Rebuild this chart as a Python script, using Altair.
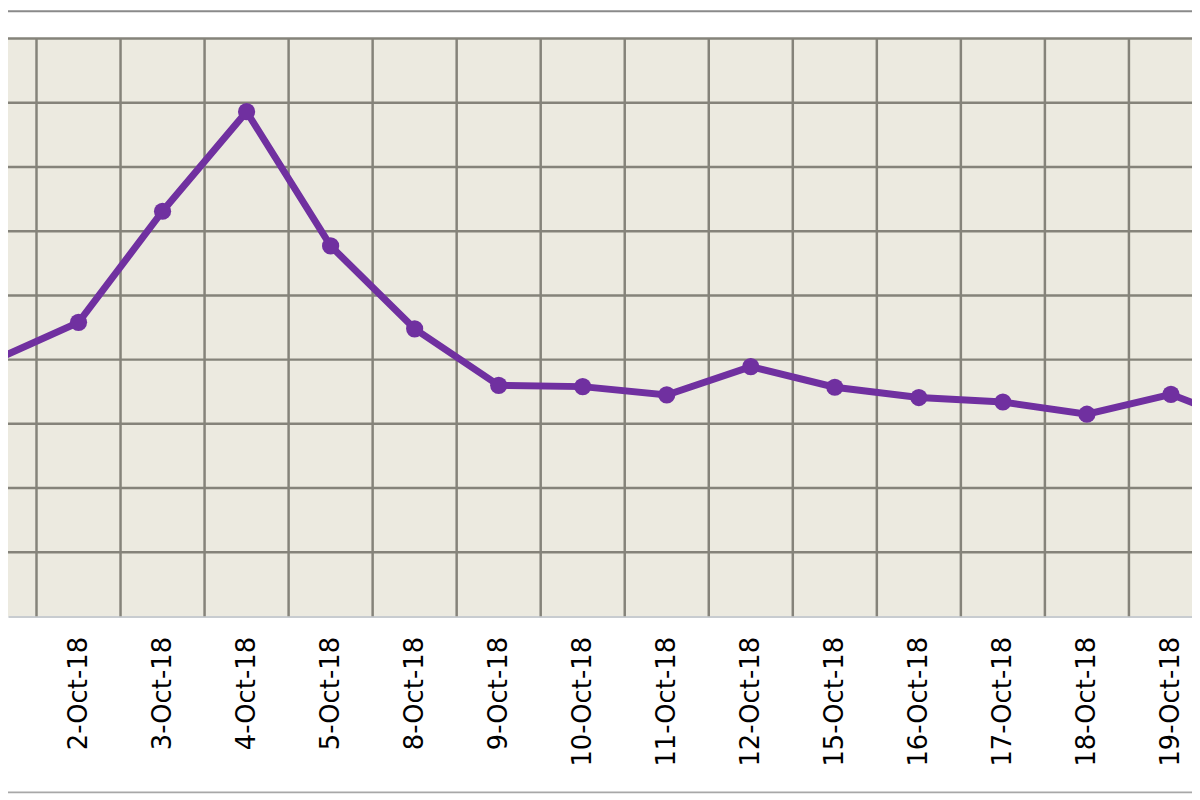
import altair as alt
import pandas as pd

dates = ["1-Oct-18", "2-Oct-18", "3-Oct-18", "4-Oct-18", "5-Oct-18", "8-Oct-18",
         "9-Oct-18", "10-Oct-18", "11-Oct-18", "12-Oct-18", "15-Oct-18", "16-Oct-18",
         "17-Oct-18", "18-Oct-18", "19-Oct-18", "22-Oct-18"]
values = [3.99, 4.58, 6.31, 7.86, 5.77, 4.48, 3.60, 3.58, 3.45, 3.89, 3.57, 3.41,
          3.34, 3.15, 3.46, 2.95]

df = pd.DataFrame({"idx": list(range(len(dates))), "date": dates, "value": values})
grid_df = pd.DataFrame({"idx": [i + 0.5 for i in range(-1, len(dates))]})

label_expr = "[" + ",".join("'%s'" % d for d in dates) + "][datum.value]"

xscale = alt.Scale(domain=[0.1608, 14.2506], nice=False, zero=False)
yscale = alt.Scale(domain=[0, 9], nice=False, zero=True)

xaxis = alt.Axis(values=list(range(len(dates))), labelExpr=label_expr,
                 labelAngle=-90, labelAlign="right", labelBaseline="middle",
                 labelFont="DejaVu Sans", labelFontSize=26, labelColor="#000000",
                 labelPadding=20, ticks=False, grid=False, title=None,
                 domainColor="#C8CCD0", domainWidth=2, labelOverlap=False,
                 labelBound=False, labelFlush=False)

PURPLE = "#7030A0"
GRID = "#85837A"

vgrid = alt.Chart(grid_df).mark_rule(color=GRID, strokeWidth=2.5, clip=True).encode(
    x=alt.X("idx:Q", scale=xscale, axis=xaxis),
    y=alt.value(0),
    y2=alt.value(582),
)

hgrid_vals = pd.DataFrame({"value": list(range(1, 10))})
hgrid = alt.Chart(hgrid_vals).mark_rule(color=GRID, strokeWidth=2.5).encode(
    y=alt.Y("value:Q", scale=yscale, axis=None),
    x=alt.value(0),
    x2=alt.value(1192),
)

base = alt.Chart(df).encode(
    x=alt.X("idx:Q", scale=xscale, axis=xaxis),
    y=alt.Y("value:Q", scale=yscale, axis=None),
)

line = base.mark_line(color=PURPLE, strokeWidth=7, clip=True)
pts = base.mark_circle(color=PURPLE, size=300, opacity=1, clip=True)

border_df = pd.DataFrame({"k": ["top", "bottom"], "yy": [-27.5, 759],
                          "c": ["#8A8A8A", "#A8A8A8"]})
borders = alt.Chart(border_df).mark_rule(strokeWidth=2).encode(
    y=alt.Y("yy:Q", scale=None, axis=None),
    x=alt.value(-10),
    x2=alt.value(1200),
    color=alt.Color("c:N", scale=None, legend=None),
)

chart = alt.layer(vgrid, hgrid, line, pts, borders).properties(
    width=1192, height=582,
    padding={"left": 0, "top": 28, "right": 0, "bottom": 180},
    autosize=alt.AutoSizeParams(type="none"),
    background="white",
).configure_view(stroke=None, fill="#ECEAE0")

chart.save("out.html", embed_options={"renderer": "svg", "actions": False})
